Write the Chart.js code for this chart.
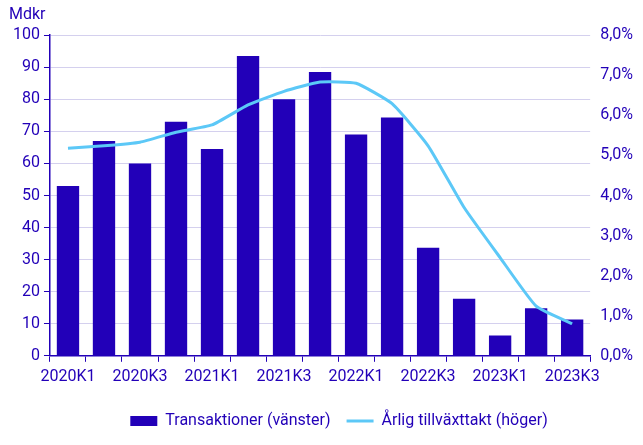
<!DOCTYPE html>
<html>
<head>
<meta charset="utf-8">
<script src="https://cdn.jsdelivr.net/npm/chart.js@4"></script>
<style>
  html, body { margin: 0; padding: 0; background: #fff; }
  #wrap { width: 643px; height: 445px; }
</style>
</head>
<body>
<div id="wrap"><canvas id="chart"></canvas></div>
<script>
// kvartal
const quarters = ["2020K1", "2020K2", "2020K3", "2020K4", "2021K1", "2021K2", "2021K3", "2021K4",
  "2022K1", "2022K2", "2022K3", "2022K4", "2023K1", "2023K2", "2023K3"];
// Transaktioner, Mdkr (vänster axel)
const transaktioner = [53, 67, 60, 73, 64.5, 93.5, 80, 88.5, 69, 74.3, 33.7, 17.8, 6.3, 14.8, 11.3];
// Årlig tillväxttakt, procent (höger axel)
const tillvaxt = [5.18, 5.24, 5.33, 5.58, 5.76, 6.26, 6.6, 6.83, 6.8, 6.29, 5.24, 3.7, 2.45, 1.24, 0.8];

const dark = "#2200B8";
const light = "#5CC8F7";
const gridCol = "#D4D0EE";
const font = { family: "Roboto", size: 16, weight: "normal" };

// flyttar legenden lite åt höger, som i originalet
const legendShift = {
  id: "legendShift",
  afterLayout(chart) {
    chart.legend.left += 13;
    chart.legend.right += 13;
  },
};

const ctx = document.getElementById("chart").getContext("2d");
new Chart(ctx, {
  data: {
    labels: quarters,
    datasets: [
      {
        type: "line",
        label: "Årlig tillväxttakt (höger)",
        data: tillvaxt,
        yAxisID: "y2",
        borderColor: light,
        backgroundColor: light,
        borderWidth: 3,
        pointRadius: 0,
        tension: 0.15,
        order: 0,
      },
      {
        type: "bar",
        label: "Transaktioner (vänster)",
        data: transaktioner,
        yAxisID: "y",
        backgroundColor: dark,
        categoryPercentage: 1,
        barPercentage: 0.62,
        order: 1,
      },
    ],
  },
  plugins: [legendShift],
  options: {
    responsive: true,
    maintainAspectRatio: false,
    animation: false,
    layout: { padding: { left: 9, right: 0, top: 0, bottom: 6 } },
    plugins: {
      title: {
        display: true,
        text: "Mdkr",
        align: "start",
        color: dark,
        font: font,
        padding: { top: 5, bottom: 11 },
      },
      legend: {
        position: "bottom",
        reverse: true,
        labels: {
          color: dark,
          font: font,
          usePointStyle: true,
          pointStyleWidth: 27,
          boxWidth: 27,
          boxHeight: 10,
          padding: 16,
          generateLabels(chart) {
            const items = Chart.defaults.plugins.legend.labels.generateLabels(chart);
            items.forEach((it) => {
              if (it.datasetIndex === 0) {
                it.pointStyle = "line";
                it.lineWidth = 3;
                it.strokeStyle = light;
              } else {
                it.pointStyle = "rect";
                it.lineWidth = 0;
              }
            });
            return items;
          },
        },
      },
      tooltip: { enabled: false },
    },
    scales: {
      x: {
        grid: { drawOnChartArea: false, drawTicks: true, tickLength: 6, color: dark },
        border: { color: dark, width: 1.5 },
        ticks: {
          color: dark,
          font: font,
          autoSkip: false,
          maxRotation: 0,
          padding: 6,
          callback: (v, i) => (i % 2 === 0 ? quarters[i] : ""),
        },
        afterFit(scale) {
          scale.height += 4;
        },
      },
      y: {
        position: "left",
        min: 0,
        max: 100,
        ticks: { stepSize: 10, color: dark, font: font, padding: 4 },
        grid: { color: gridCol, tickColor: dark, tickLength: 6 },
        border: { color: dark, width: 1.5 },
      },
      y2: {
        position: "right",
        min: 0,
        max: 8,
        ticks: {
          stepSize: 1,
          color: dark,
          font: font,
          padding: 10,
          callback: (v) => v.toFixed(1).replace(".", ",") + "%",
        },
        grid: { drawOnChartArea: false, drawTicks: false },
        border: { display: false },
      },
    },
  },
});
</script>
</body>
</html>
